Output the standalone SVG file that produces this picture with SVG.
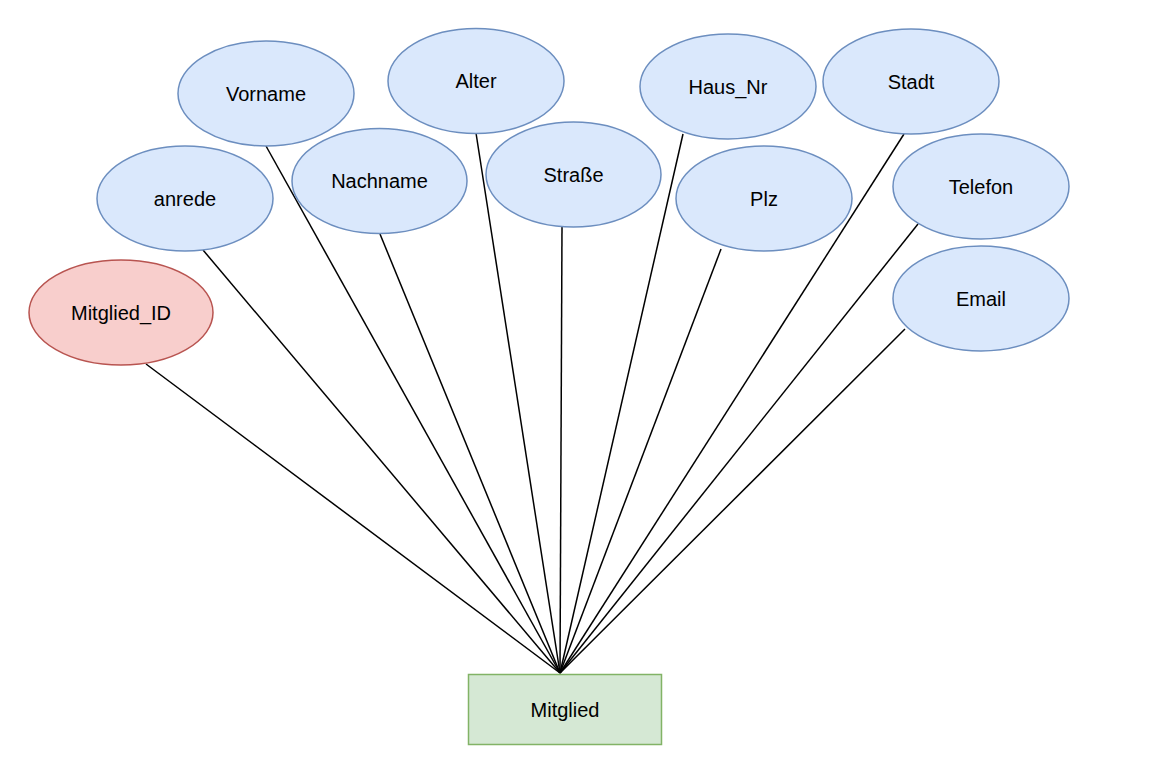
<svg xmlns="http://www.w3.org/2000/svg" width="1151" height="759" viewBox="0 0 1151 759">
<style>
.a{fill:#dae8fc;stroke:#6c8ebf;stroke-width:1.5}
.k{fill:#f8cecc;stroke:#b85450;stroke-width:1.5}
.e{fill:#d5e8d4;stroke:#82b366;stroke-width:1.5}
text{font-family:"Liberation Sans",Arial,sans-serif;font-size:20px;fill:#000;text-anchor:middle;dominant-baseline:central}
#connectors line{stroke:#000;stroke-width:1.5}
</style>
<rect width="1151" height="759" fill="#fff"/>
<g id="connectors">
<line x1="146" y1="364" x2="560" y2="673"/>
<line x1="203" y1="250" x2="560" y2="673"/>
<line x1="266" y1="146" x2="560" y2="673"/>
<line x1="380" y1="234" x2="560" y2="673"/>
<line x1="476" y1="133" x2="560" y2="673"/>
<line x1="562" y1="227" x2="560" y2="673"/>
<line x1="683" y1="134" x2="560" y2="673"/>
<line x1="721" y1="249" x2="560" y2="673"/>
<line x1="904" y1="134" x2="560" y2="673"/>
<line x1="918" y1="224" x2="560" y2="673"/>
<line x1="905" y1="329" x2="560" y2="673"/>
</g>
<g id="vorname"><ellipse class="a" cx="266" cy="93.5" rx="88" ry="52.5"/><text x="266" y="93.5">Vorname</text></g>
<g id="alter"><ellipse class="a" cx="476" cy="81" rx="88" ry="52.5"/><text x="476" y="81">Alter</text></g>
<g id="haus_nr"><ellipse class="a" cx="728" cy="86.5" rx="88" ry="52.5"/><text x="728" y="86.5">Haus_Nr</text></g>
<g id="stadt"><ellipse class="a" cx="911" cy="81.5" rx="88" ry="52.5"/><text x="911" y="81.5">Stadt</text></g>
<g id="anrede"><ellipse class="a" cx="185" cy="198.5" rx="88" ry="52.5"/><text x="185" y="198.5">anrede</text></g>
<g id="nachname"><ellipse class="a" cx="379.5" cy="181" rx="87.5" ry="52.5"/><text x="379.5" y="181">Nachname</text></g>
<g id="strasse"><ellipse class="a" cx="573.5" cy="174.5" rx="87.5" ry="52.5"/><text x="573.5" y="174.5">Straße</text></g>
<g id="plz"><ellipse class="a" cx="764" cy="198.5" rx="88" ry="52.5"/><text x="764" y="198.5">Plz</text></g>
<g id="telefon"><ellipse class="a" cx="981" cy="186.5" rx="88" ry="52.5"/><text x="981" y="186.5">Telefon</text></g>
<g id="email"><ellipse class="a" cx="981" cy="298.5" rx="88" ry="52.5"/><text x="981" y="298.5">Email</text></g>
<g id="mitglied_id"><ellipse class="k" cx="121" cy="312.5" rx="92" ry="52.5"/><text x="121" y="312.5">Mitglied_ID</text></g>
<g id="mitglied"><rect class="e" x="468.5" y="674.5" width="193" height="70"/><text x="565" y="709.5">Mitglied</text></g>
</svg>
